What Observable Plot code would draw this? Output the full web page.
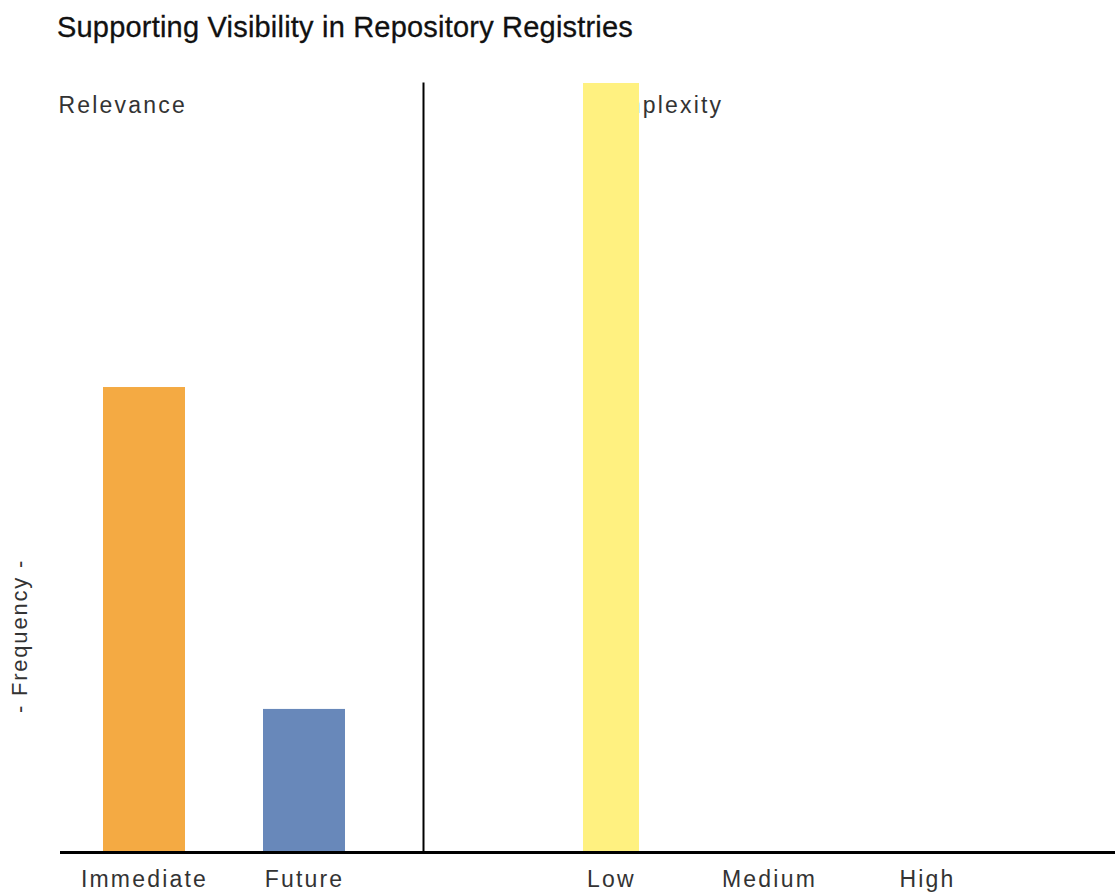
<!DOCTYPE html>
<html>
<head>
<meta charset="utf-8">
<script src="https://cdn.jsdelivr.net/npm/d3@7"></script>
<script src="https://cdn.jsdelivr.net/npm/@observablehq/plot@0.6"></script>
<style>
  html, body { margin: 0; padding: 0; background: #fff; }
  #root { position: relative; width: 1115px; height: 892px; overflow: hidden; font-family: "Liberation Sans", Arial, sans-serif; }
  #title { position: absolute; left: 57px; top: 13px; font-size: 29px; line-height: 29px; color: #111; letter-spacing: 0.2px; white-space: nowrap; -webkit-text-stroke: 0.3px #111; }
  #ylabel { position: absolute; left: 20px; top: 636px; transform: translate(-50%, -50%) rotate(-90deg); font-size: 22px; letter-spacing: 1.8px; color: #333; white-space: nowrap; }
  #left { position: absolute; left: 0; top: 60px; }
  #right { position: absolute; left: 423px; top: 60px; }
  svg { overflow: visible; }
</style>
</head>
<body>
<div id="root">
  <div id="title">Supporting Visibility in Repository Registries</div>
  <div id="ylabel">- Frequency -</div>
  <div id="left"></div>
  <div id="right"></div>
</div>
<script>
// Data
const relevanceCategories = ["Immediate", "Future"];
const relevanceValues = [13, 4];
const relevanceColors = ["#f4aa43", "#6888ba"];

const complexityCategories = ["Low", "Medium", "High"];
const complexityValues = [21.5, 0, 0];
const complexityColors = ["#fff180", "#c8c8c8", "#c8c8c8"];

const panelTitles = ["Relevance", "Complexity"];
const yLabel = "- Frequency -";

const yMax = Math.max(...relevanceValues, ...complexityValues);

const relData = relevanceCategories.map((c, i) => ({cat: c, value: relevanceValues[i]}));
const cxData = complexityCategories.map((c, i) => ({cat: c, value: complexityValues[i]}));

const labelStyle = {fontFamily: "'Liberation Sans', Arial, sans-serif", fontSize: "23px", letterSpacing: "2.2px"};

const left = Plot.plot({
  width: 423,
  height: 832,
  marginLeft: 60,
  marginRight: 0,
  marginTop: 23,
  marginBottom: 40,
  style: {...labelStyle, color: "#333", background: "transparent"},
  x: {domain: relevanceCategories, paddingInner: 0.4875, paddingOuter: 0.378, align: 0.355, label: null},
  y: {domain: [0, yMax], axis: null},
  color: {domain: relevanceCategories, range: relevanceColors},
  marks: [
    Plot.text([panelTitles[0]], {frameAnchor: "top-left", textAnchor: "start", lineAnchor: "top", dx: -2, dy: 13, text: d => d, fill: "#333", fontSize: 23}),
    Plot.barY(relData, {x: "cat", y: "value", fill: "cat"}),
    Plot.axisX({tickSize: 0, tickPadding: 18, fontSize: 23, fill: "#333"}),
    Plot.ruleY([0], {stroke: "#000", strokeWidth: 3}),
    Plot.frame({anchor: "right", stroke: "#000", strokeWidth: 2})
  ]
});
document.getElementById("left").appendChild(left);

const right = Plot.plot({
  width: 692,
  height: 832,
  marginLeft: 0,
  marginRight: 0,
  marginTop: 23,
  marginBottom: 40,
  style: {...labelStyle, color: "#333", background: "transparent"},
  x: {domain: complexityCategories, paddingInner: 0.644, paddingOuter: 1, label: null},
  y: {domain: [0, yMax], axis: null},
  color: {domain: complexityCategories, range: complexityColors},
  marks: [
    Plot.text([panelTitles[1]], {x: () => "Low", frameAnchor: "top", textAnchor: "start", lineAnchor: "top", dx: -24, dy: 13, text: d => d, fill: "#333", fontSize: 23}),
    Plot.barY(cxData, {x: "cat", y: "value", fill: "cat"}),
    Plot.axisX({tickSize: 0, tickPadding: 18, fontSize: 23, fill: "#333"}),
    Plot.ruleY([0], {stroke: "#000", strokeWidth: 3})
  ]
});
document.getElementById("right").appendChild(right);
</script>
</body>
</html>
